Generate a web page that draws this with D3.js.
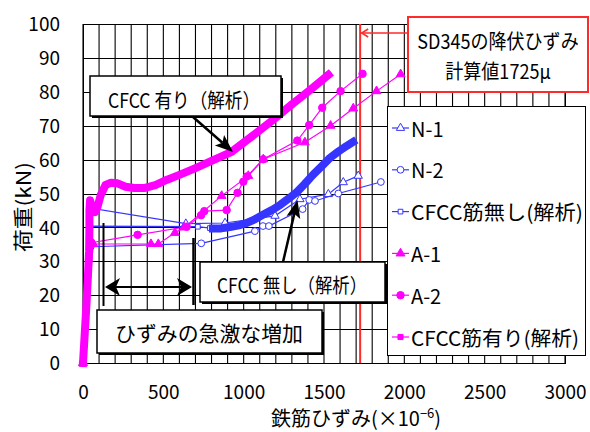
<!DOCTYPE html>
<html>
<head>
<meta charset="utf-8">
<script src="https://cdn.jsdelivr.net/npm/d3@7"></script>
<style>
  body { margin: 0; background: #fff; }
  svg { display: block; }
  text { font-family: "Noto Sans CJK JP", "Noto Sans", sans-serif; fill: #000; }
</style>
</head>
<body>
<svg id="chart" width="590" height="432"></svg>
<script>
// ---- data: steel strain (×10^-6) vs. load (kN) ----
const xTickValues = [0, 500, 1000, 1500, 2000, 2500, 3000];
const yTickValues = [0, 10, 20, 30, 40, 50, 60, 70, 80, 90, 100];
const seriesNames = ["N-1", "N-2", "CFCC筋無し(解析)", "A-1", "A-2", "CFCC筋有り(解析)"];

const n1 = [[0,0],[50,45.7],[640,41.1],[884,41.3],[1195,43.4],[1350,48.3],[1527,49.8],[1620,53.3],[1713,55.2]];
const n2 = [[0,0],[48,34.3],[736,35.3],[1070,38.9],[1120,40.4],[1157,40.4],[1367,45.4],[1408,48.1],[1444,47.8],[1589,50.0],[1854,53.4]];
const noCfccAnalysis = [[0,0],[45,40.4],[715,40.2],[790,39.8],[809,39.7],[860,39.7],[915,40.1],[970,40.6],[1020,41.3],[1070,42.4],[1120,43.7],[1175,45.1],[1226,46.6],[1280,48.5],[1331,50.4],[1380,52.8],[1431,55.5],[1485,58.0],[1537,60.5],[1590,62.4],[1640,64.0],[1680,65.2]];
const a1 = [[0,0],[64,35.1],[423,35.1],[469,35.1],[572,38.4],[630,40.0],[863,49.3],[1029,55.2],[1122,60.1],[1381,65.1],[1541,70.0],[1682,75.1],[1827,80.2],[1977,85.2]];
const a2 = [[0,0],[52,35.5],[340,37.8],[645,40.2],[735,43.6],[755,44.8],[894,45.1],[962,50.2],[998,53.5],[1019,55.0],[1122,60.1],[1334,65.6],[1408,70.2],[1489,75.3],[1603,80.2],[1740,85.3]];
const withCfccAnalysis = [[0,0],[10,8],[20,16],[30,25],[38,33],[40,40],[40,45],[44,48],[55,46],[75,44.5],[90,46],[110,49.5],[140,52.5],[175,53.2],[215,53],[265,52],[320,51.6],[380,51.6],[450,52.5],[520,54],[600,55.5],[700,57.5],[800,59.6],[925,62.3],[1050,66.8],[1183,71.7],[1300,76.3],[1420,80.8],[1527,85]];
const yieldStrain = 1725;

// ---- layout ----
const svg = d3.select("#chart");
const plot = { left: 83, right: 565, top: 24, bottom: 363 };
const x = d3.scaleLinear().domain([0, 3000]).range([plot.left, plot.right]);
const y = d3.scaleLinear().domain([0, 100]).range([plot.bottom, plot.top]);

const BLUE = "#3535ff", MAGENTA = "#ff00ff", RED = "#ff2a2a";

svg.append("rect").attr("width", 590).attr("height", 432).attr("fill", "#fff");

// grid: every 100 µ horizontally, every 10 kN vertically
const grid = svg.append("g");
grid.selectAll("line.v").data(x.ticks(30)).join("line")
  .attr("x1", d => x(d)).attr("x2", d => x(d))
  .attr("y1", plot.top).attr("y2", plot.bottom)
  .attr("stroke", "#000").attr("stroke-width", 1.1);
grid.selectAll("line.h").data(yTickValues).join("line")
  .attr("x1", plot.left).attr("x2", plot.right)
  .attr("y1", d => Math.round(y(d)) + 0.5).attr("y2", d => Math.round(y(d)) + 0.5)
  .attr("stroke", "#000").attr("stroke-width", 1);
svg.append("rect")
  .attr("x", plot.left + 0.5).attr("y", plot.top + 0.5)
  .attr("width", plot.right - plot.left).attr("height", plot.bottom - plot.top)
  .attr("fill", "none").attr("stroke", "#000");

// axes
const yAxis = svg.append("g").attr("transform", `translate(${plot.left},0)`)
  .call(d3.axisLeft(y).tickValues(yTickValues).tickFormat(d3.format("d")).tickSize(0).tickPadding(23));
yAxis.select(".domain").remove();
yAxis.selectAll("text").attr("font-size", 19).attr("dy", "0.35em")
  .style("font-family", '"Noto Sans CJK JP", sans-serif');

const xAxis = svg.append("g").attr("transform", `translate(0,${plot.bottom})`)
  .call(d3.axisBottom(x).tickValues(xTickValues).tickFormat(d3.format("d")).tickSize(0).tickPadding(0));
xAxis.select(".domain").remove();
xAxis.selectAll("text").attr("font-size", 19).attr("y", 29).attr("dy", "0.35em")
  .style("font-family", '"Noto Sans CJK JP", sans-serif');

// axis titles
svg.append("text")
  .attr("transform", "translate(22,207) rotate(-90)")
  .attr("text-anchor", "middle").attr("dominant-baseline", "central")
  .attr("font-size", 20).attr("textLength", 90).attr("lengthAdjust", "spacingAndGlyphs")
  .text("荷重(kN)");
const xt = svg.append("text")
  .attr("x", 356).attr("y", 426)
  .attr("text-anchor", "middle").attr("font-size", 20);
xt.append("tspan").text("鉄筋ひずみ(×10");
xt.append("tspan").attr("font-size", 13).attr("dy", -8).text("−6");
xt.append("tspan").attr("dy", 8).text(")");

// yield strain reference line
svg.append("line")
  .attr("x1", x(yieldStrain)).attr("x2", x(yieldStrain))
  .attr("y1", plot.top).attr("y2", plot.bottom)
  .attr("stroke", RED).attr("stroke-width", 2);

// ---- series ----
const series = [
  { name: seriesNames[0], data: n1, color: BLUE, symbol: d3.symbolTriangle, size: 30, filled: false },
  { name: seriesNames[1], data: n2, color: BLUE, symbol: d3.symbolCircle, size: 36, filled: false },
  { name: seriesNames[2], data: noCfccAnalysis, color: BLUE, symbol: d3.symbolSquare, size: 22, filled: false, bandFrom: 4 },
  { name: seriesNames[3], data: a1, color: MAGENTA, symbol: d3.symbolTriangle, size: 34, filled: true },
  { name: seriesNames[4], data: a2, color: MAGENTA, symbol: d3.symbolCircle, size: 44, filled: true },
  { name: seriesNames[5], data: withCfccAnalysis, color: MAGENTA, symbol: d3.symbolSquare, size: 26, filled: true, bandFrom: 0 }
];

const line = d3.line().x(d => x(d[0])).y(d => y(d[1]));
const sg = svg.append("g");
series.forEach(s => {
  const g = sg.append("g");
  g.append("path").attr("d", line(s.data))
    .attr("fill", "none").attr("stroke", s.color).attr("stroke-width", 1.2);
  g.selectAll("path.m").data(s.data).join("path")
    .attr("transform", d => `translate(${x(d[0])},${y(d[1])})`)
    .attr("d", d3.symbol(s.symbol, s.size))
    .attr("fill", s.filled ? s.color : "#fff")
    .attr("stroke", s.color).attr("stroke-width", 1);
  if (s.bandFrom !== undefined) {
    // dense analysis output renders as a heavy band
    g.append("path").attr("d", line(s.data.slice(s.bandFrom)))
      .attr("fill", "none").attr("stroke", s.color)
      .attr("stroke-width", 8).attr("stroke-linejoin", "round").attr("stroke-linecap", "square");
  }
});

// ---- annotations ----
const ann = svg.append("g");

function arrowHead(tipX, tipY, fromX, fromY, len, half, notch) {
  const a = Math.atan2(tipY - fromY, tipX - fromX);
  const ux = Math.cos(a), uy = Math.sin(a), px = -uy, py = ux;
  const bx = tipX - ux * len, by = tipY - uy * len;
  const nx = tipX - ux * (len - notch), ny = tipY - uy * (len - notch);
  return `M${tipX},${tipY}L${bx + px * half},${by + py * half}L${nx},${ny}L${bx - px * half},${by - py * half}Z`;
}
function arrow(x1, y1, x2, y2, w, len, half) {
  const d = Math.hypot(x2 - x1, y2 - y1);
  ann.append("line").attr("x1", x1).attr("y1", y1)
    .attr("x2", x2 - (x2 - x1) / d * (len - 4))
    .attr("y2", y2 - (y2 - y1) / d * (len - 4))
    .attr("stroke", "#000").attr("stroke-width", w);
  ann.append("path").attr("d", arrowHead(x2, y2, x1, y1, len, half, 4)).attr("fill", "#000");
}
function box(bx, by, w, h, label, cx, cy, len, fs) {
  ann.append("rect").attr("x", bx + 2).attr("y", by + 2).attr("width", w).attr("height", h).attr("fill", "#000");
  ann.append("rect").attr("x", bx).attr("y", by).attr("width", w).attr("height", h)
    .attr("fill", "#fff").attr("stroke", "#000").attr("stroke-width", 1.5);
  ann.append("text").attr("x", cx).attr("y", cy)
    .attr("text-anchor", "middle").attr("dominant-baseline", "central")
    .attr("font-size", fs).attr("textLength", len).attr("lengthAdjust", "spacingAndGlyphs")
    .text(label);
}

// strain-jump bracket
ann.append("line").attr("x1", 103.5).attr("x2", 103.5).attr("y1", 223).attr("y2", 306)
  .attr("stroke", "#000").attr("stroke-width", 2);
ann.append("line").attr("x1", 193.5).attr("x2", 193.5).attr("y1", 238).attr("y2", 305)
  .attr("stroke", "#000").attr("stroke-width", 2.5);
ann.append("line").attr("x1", 112).attr("x2", 185).attr("y1", 287).attr("y2", 287)
  .attr("stroke", "#000").attr("stroke-width", 2);
ann.append("path").attr("d", arrowHead(105, 287, 193, 287, 15, 9, 4)).attr("fill", "#000");
ann.append("path").attr("d", arrowHead(192, 287, 104, 287, 15, 9, 4)).attr("fill", "#000");

arrow(193, 117, 233, 152, 2.5, 18, 7);
box(90, 76, 191, 40, "CFCC 有り（解析）", 184, 99, 152, 20);

arrow(283, 262, 297.5, 200, 2.5, 18, 7);
box(200, 262, 185, 40, "CFCC 無し（解析）", 292, 284, 150, 20);

box(97, 310, 225, 43, "ひずみの急激な増加", 209, 332, 188, 21);

// yield-strain callout
ann.append("line").attr("x1", 408).attr("x2", x(yieldStrain) + 1).attr("y1", 33).attr("y2", 33)
  .attr("stroke", RED).attr("stroke-width", 1.5);
ann.append("path").attr("d", `M${x(yieldStrain) + 8},29L${x(yieldStrain) + 1.5},33L${x(yieldStrain) + 8},37`)
  .attr("fill", "none").attr("stroke", RED).attr("stroke-width", 1.5);
ann.append("rect").attr("x", 408).attr("y", 17).attr("width", 180).attr("height", 75)
  .attr("fill", "#fff").attr("stroke", RED).attr("stroke-width", 2);
// narrow glyphs: horizontally condensed text
[["SD345の降伏ひずみ", 41], ["計算値1725μ", 71]].forEach(([label, ty]) => {
  ann.append("text")
    .attr("transform", `translate(498,${ty}) scale(0.88,1)`)
    .attr("text-anchor", "middle").attr("dominant-baseline", "central")
    .attr("font-size", 20.5).text(label);
});

// ---- legend ----
const legend = svg.append("g");
legend.append("rect").attr("x", 387.5).attr("y", 106.5).attr("width", 198).attr("height", 249)
  .attr("fill", "#fff").attr("stroke", "#000").attr("stroke-width", 1);
const rowY = d3.scalePoint().domain(seriesNames).range([128, 337]);
series.forEach(s => {
  const ry = rowY(s.name);
  legend.append("line").attr("x1", 392).attr("x2", 409).attr("y1", ry).attr("y2", ry)
    .attr("stroke", s.color).attr("stroke-width", 1.2);
  legend.append("path").attr("transform", `translate(400.5,${ry})`)
    .attr("d", d3.symbol(s.symbol, s.size))
    .attr("fill", s.filled ? s.color : "#fff").attr("stroke", s.color).attr("stroke-width", 1);
  const t = legend.append("text").attr("x", 411).attr("y", ry)
    .attr("dominant-baseline", "central").attr("font-size", 20).text(s.name);
  if (s.name.length > 4) t.attr("textLength", s.bandFrom === 0 ? 168 : 172).attr("lengthAdjust", "spacingAndGlyphs");
});
</script>
</body>
</html>
